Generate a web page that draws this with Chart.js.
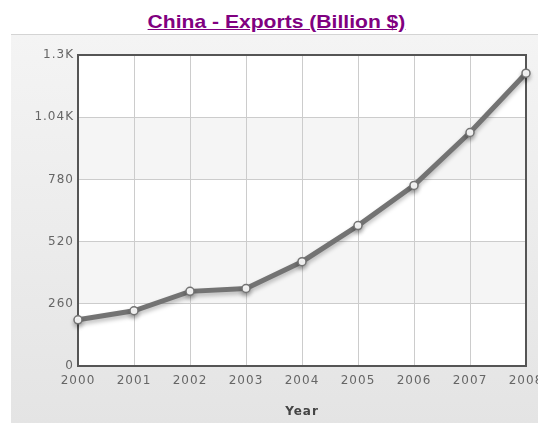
<!DOCTYPE html>
<html>
<head>
<meta charset="utf-8">
<script src="https://cdn.jsdelivr.net/npm/chart.js@4/dist/chart.umd.min.js"></script>
<style>
  body { margin: 0; background: #fff; width: 538px; height: 423px; overflow: hidden; position: relative; }
  #title {
    position: absolute; left: 13px; width: 527px; top: 11px; text-align: center;
    font: bold 19px "Liberation Sans", Arial, sans-serif; color: #800080; text-decoration: underline;
    transform: scaleX(1.11);
  }
  #panel {
    position: absolute; left: 11px; top: 34px; width: 527px; height: 389px;
    border-top: 1px solid #d4d4d4;
    background: linear-gradient(#f4f4f4, #e4e4e4);
  }
</style>
</head>
<body>
<div id="title">China - Exports (Billion $)</div>
<div id="panel"><canvas id="myChart" width="527" height="388"></canvas></div>
<script>
const years = ["2000", "2001", "2002", "2003", "2004", "2005", "2006", "2007", "2008"];
const exportsBn = [193, 231, 312, 324, 436, 587, 755, 976, 1224];
const yTicks = [0, 260, 520, 780, 1040, 1300];

// alternating bands + frame round the plot
const plotDeco = {
  id: "plotDeco",
  beforeDraw(chart) {
    const { ctx, chartArea: a, scales: { y } } = chart;
    ctx.letterSpacing = "1px";  // wide tick text like the original
    ctx.save();
    ctx.fillStyle = "#ffffff";
    ctx.fillRect(a.left, a.top, a.right - a.left, a.bottom - a.top);
    ctx.fillStyle = "#f5f5f5";
    for (let i = 1; i < yTicks.length - 1; i += 2) {
      const y1 = y.getPixelForValue(yTicks[i + 1]);
      const y0 = y.getPixelForValue(yTicks[i]);
      ctx.fillRect(a.left, y1, a.right - a.left, y0 - y1);
    }
    ctx.restore();
  },
  beforeDatasetsDraw(chart) {
    const { ctx, chartArea: a } = chart;
    ctx.save();
    ctx.strokeStyle = "#555";
    ctx.lineWidth = 2;
    ctx.strokeRect(a.left, a.top, a.right - a.left, a.bottom - a.top);
    ctx.restore();
  },
  beforeDatasetDraw(chart) {
    const ctx = chart.ctx;
    ctx.save();
    ctx.shadowColor = "rgba(0,0,0,0.25)";
    ctx.shadowBlur = 4;
    ctx.shadowOffsetY = 3;
  },
  afterDatasetDraw(chart) {
    chart.ctx.restore();
  }
};

new Chart(document.getElementById("myChart"), {
  type: "line",
  data: {
    labels: years,
    datasets: [{
      data: exportsBn,
      borderColor: "#737373",
      borderWidth: 5,
      tension: 0,
      pointRadius: 4,
      pointBackgroundColor: "#fff",
      pointBorderColor: "#737373",
      pointBorderWidth: 1.5,
      clip: false
    }]
  },
  options: {
    responsive: false,
    animation: false,
    layout: { padding: { top: 20, right: 12, left: 0, bottom: 0 } },
    plugins: { legend: { display: false }, tooltip: { enabled: false } },
    scales: {
      x: {
        offset: false,
        grid: { color: "#cccccc", drawTicks: false },
        border: { display: false },
        ticks: { color: "#666", padding: 8, maxRotation: 0, font: { family: "DejaVu Sans", size: 12 } },
        title: { display: true, text: "Year", color: "#444", padding: { top: 10 }, font: { family: "DejaVu Sans", size: 12, weight: "bold" } },
        afterFit(s) { s.height = 57; s.paddingLeft = 0; s.paddingRight = 0; }
      },
      y: {
        min: 0, max: 1300,
        afterBuildTicks(s) { s.ticks = yTicks.map(v => ({ value: v })); },
        grid: { color: "#cccccc", drawTicks: false },
        border: { display: false },
        ticks: {
          color: "#666", padding: 4, font: { family: "DejaVu Sans", size: 12 },
          callback: v => v >= 1000 ? (v / 1000) + "K" : v
        },
        afterFit(s) { s.width = 67; s.paddingTop = 0; s.paddingBottom = 0; }
      }
    }
  },
  plugins: [plotDeco]
});
</script>
</body>
</html>
